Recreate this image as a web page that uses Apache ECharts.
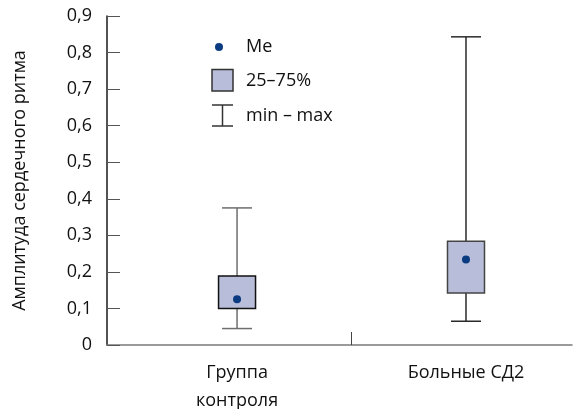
<!DOCTYPE html>
<html>
<head>
<meta charset="utf-8">
<script src="https://cdn.jsdelivr.net/npm/echarts@6/dist/echarts.min.js"></script>
<style>
  html, body { margin: 0; padding: 0; background: #fff; }
  #chart { width: 577px; height: 409px; }
</style>
</head>
<body>
<div id="chart"></div>
<script>
// Heart-rate amplitude by group: min, 25th pct, median, 75th pct, max
const categories = ['Группа\nконтроля', 'Больные СД2'];
const positions = [1, 2];
const minValues = [0.045, 0.065];
const q1Values = [0.100, 0.142];
const medianValues = [0.125, 0.234];
const q3Values = [0.189, 0.284];
const maxValues = [0.375, 0.843];
const yTicks = [0, 0.1, 0.2, 0.3, 0.4, 0.5, 0.6, 0.7, 0.8, 0.9];

const FONT = 'Open Sans';
const FS = 18;
const boxFill = '#b8bdd9';
const dotColor = '#0b3b80';
const whiskerColors = ['#6e6e6e', '#2a2a2a'];
const boxBorderColors = ['#111', '#444'];

const boxData = positions.map((p, i) => [p, minValues[i], q1Values[i], medianValues[i], q3Values[i], maxValues[i]]);
const medianData = positions.map((p, i) => [p, medianValues[i]]);

const chart = echarts.init(document.getElementById('chart'));

chart.setOption({
  animation: false,
  textStyle: { fontFamily: FONT },
  grid: { left: 107, right: 5, top: 16, bottom: 64, containLabel: false, outerBoundsMode: 'none' },
  xAxis: {
    type: 'value',
    min: 0.432,
    max: 2.463,
    splitLine: { show: false },
    axisLine: { show: true, lineStyle: { color: '#7a7a7a', width: 1.5 } },
    axisTick: { show: true, inside: true, length: 13, customValues: [1.5], lineStyle: { color: '#444', width: 1 } },
    axisLabel: {
      customValues: positions,
      formatter: v => categories[positions.indexOf(Math.round(v))] || '',
      fontSize: FS, color: '#111', lineHeight: 28, margin: 14, fontFamily: FONT
    }
  },
  yAxis: {
    type: 'value',
    min: 0,
    max: 0.9,
    interval: 0.1,
    name: 'Амплитуда сердечного ритма',
    nameLocation: 'middle',
    nameRotate: 90,
    nameGap: 78,
    nameTextStyle: { fontSize: FS, color: '#111', fontFamily: FONT },
    splitLine: { show: false },
    axisLine: { show: true, lineStyle: { color: '#1a1a1a', width: 1.5 } },
    axisTick: { show: true, inside: true, length: 13, lineStyle: { color: '#555', width: 1 } },
    axisLabel: {
      fontSize: FS, color: '#111', margin: 15, fontFamily: FONT,
      formatter: v => v === 0 ? '0' : v.toFixed(1).replace('.', ',')
    }
  },
  series: [
    {
      type: 'custom',
      name: 'box',
      data: boxData,
      encode: { x: 0, y: [1, 2, 3, 4, 5] },
      renderItem: function (params, api) {
        const i = params.dataIndex;
        const x = api.value(0);
        const pMin = api.coord([x, api.value(1)]);
        const pQ1 = api.coord([x, api.value(2)]);
        const pQ3 = api.coord([x, api.value(4)]);
        const pMax = api.coord([x, api.value(5)]);
        const cx = pMin[0];
        const boxW = 37, capW = 30;
        const wStyle = { stroke: whiskerColors[i], lineWidth: 1.5 };
        return {
          type: 'group',
          children: [
            { type: 'line', shape: { x1: cx, y1: pMax[1], x2: cx, y2: pQ3[1] }, style: wStyle },
            { type: 'line', shape: { x1: cx, y1: pQ1[1], x2: cx, y2: pMin[1] }, style: wStyle },
            { type: 'line', shape: { x1: cx - capW / 2, y1: pMax[1], x2: cx + capW / 2, y2: pMax[1] }, style: wStyle },
            { type: 'line', shape: { x1: cx - capW / 2, y1: pMin[1], x2: cx + capW / 2, y2: pMin[1] }, style: wStyle },
            {
              type: 'rect',
              shape: { x: cx - boxW / 2, y: pQ3[1], width: boxW, height: pQ1[1] - pQ3[1] },
              style: { fill: boxFill, stroke: boxBorderColors[i], lineWidth: 1.5 }
            }
          ]
        };
      },
      z: 2
    },
    {
      type: 'scatter',
      name: 'Me',
      data: medianData,
      symbol: 'circle',
      symbolSize: 8,
      itemStyle: { color: dotColor, opacity: 1 },
      z: 3
    }
  ],
  graphic: [
    { type: 'circle', shape: { cx: 219, cy: 47, r: 4 }, style: { fill: dotColor } },
    { type: 'text', x: 246, y: 47, style: { text: 'Me', fontSize: FS, fontFamily: FONT, fill: '#111', verticalAlign: 'middle' } },
    { type: 'rect', shape: { x: 212, y: 69.5, width: 21, height: 21.5 }, style: { fill: boxFill, stroke: '#333', lineWidth: 1.5 } },
    { type: 'text', x: 246, y: 81, style: { text: '25–75%', fontSize: FS, fontFamily: FONT, fill: '#111', verticalAlign: 'middle' } },
    { type: 'line', shape: { x1: 212, y1: 105, x2: 233, y2: 105 }, style: { stroke: '#333', lineWidth: 1.5 } },
    { type: 'line', shape: { x1: 222.5, y1: 105, x2: 222.5, y2: 126 }, style: { stroke: '#333', lineWidth: 1.5 } },
    { type: 'line', shape: { x1: 212, y1: 126, x2: 233, y2: 126 }, style: { stroke: '#333', lineWidth: 1.5 } },
    { type: 'text', x: 246, y: 116, style: { text: 'min – max', fontSize: FS, fontFamily: FONT, fill: '#111', verticalAlign: 'middle' } }
  ]
});
</script>
</body>
</html>
